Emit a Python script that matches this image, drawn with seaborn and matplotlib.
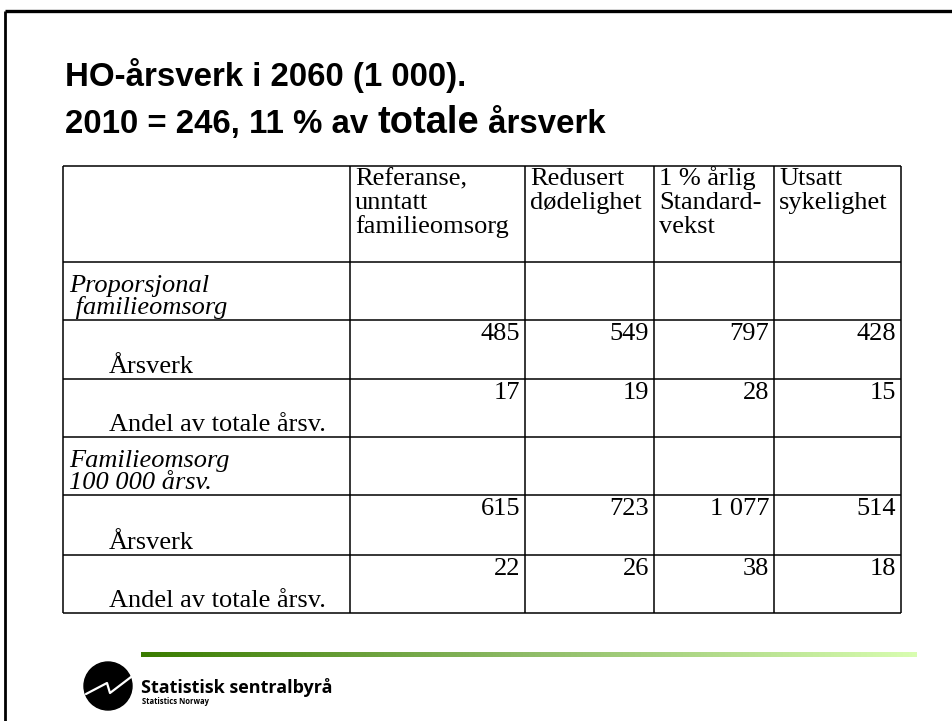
import matplotlib
matplotlib.use("Agg")
import matplotlib.pyplot as plt
import numpy as np
import seaborn as sns
from matplotlib.colors import ListedColormap
from matplotlib.patches import Circle

# table content
title_line1 = "HO-årsverk i 2060 (1 000)."
title_line2 = ["2010 = 246, 11 % av ", "totale", " årsverk"]
columns = ["Referanse,\nunntatt\nfamilieomsorg", "Redusert\ndødelighet",
           "1 % årlig\nStandard-\nvekst", "Utsatt\nsykelighet"]
groups = ["Proporsjonal\n familieomsorg", "Familieomsorg\n100 000 årsv."]
row_labels = ["Årsverk", "Andel av totale årsv."]
arsverk_prop = [485, 549, 797, 428]
andel_prop = [17, 19, 28, 15]
arsverk_fam = [615, 723, 1077, 514]
andel_fam = [22, 26, 38, 18]

# layout (pixels)
W, H = 952, 721
col_edges = [63, 350, 525, 654, 774, 901]
row_edges = [166, 262, 320, 379, 437, 495, 555, 613]
pt = 0.72  # px -> pt at dpi 100

sns.set_theme(style="white")
plt.rcParams['font.family'] = ['Liberation Serif', 'DejaVu Serif']
plt.rcParams['text.color'] = 'black'

fig = plt.figure(figsize=(W / 100, H / 100), dpi=100)
ax = fig.add_axes([0, 0, 1, 1])
ax.set_axis_off()

# slide frame
ax.plot([5, W], [11, 11], color='black', lw=2.4, solid_capstyle='butt')
ax.plot([5, 5], [11, H], color='black', lw=2.0, solid_capstyle='butt')

# title
sans = ['Liberation Sans', 'DejaVu Sans']
ax.text(65, 86, title_line1, family=sans, weight='bold', fontsize=33 * pt,
        va='baseline', ha='left')
renderer = fig.canvas.get_renderer()
x = 65
for part, size in zip(title_line2, [33, 38, 33]):
    t = ax.text(x, 133, part, family=sans, weight='bold', fontsize=size * pt,
                va='baseline', ha='left')
    bb = t.get_window_extent(renderer=renderer)
    x += bb.width

# table grid
ax.hlines(row_edges, col_edges[0], col_edges[-1], color='black', lw=1.1)
ax.vlines(col_edges, row_edges[0], row_edges[-1], color='black', lw=1.1)

fs = 19
# header
for j, name in enumerate(columns):
    for i, line in enumerate(name.split("\n")):
        ax.text(col_edges[j + 1] + 5, row_edges[0] + 19 + 24 * i, line,
                fontsize=fs, va='baseline', ha='left')

blocks = [(groups[0], [arsverk_prop, andel_prop]),
          (groups[1], [arsverk_fam, andel_fam])]
r = 1
for group, series in blocks:
    for i, line in enumerate(group.split("\n")):
        ax.text(col_edges[0] + 6, row_edges[r] + 30 + 22 * i, line,
                fontsize=fs, style='italic', va='baseline', ha='left')
    r += 1
    for label, vals in zip(row_labels, series):
        ax.text(col_edges[0] + 46, row_edges[r + 1] - 6, label,
                fontsize=fs, va='baseline', ha='left')
        for j, v in enumerate(vals):
            s = f"{v:,}".replace(",", " ")
            ax.text(col_edges[j + 2] - 5, row_edges[r] + 20, s,
                    fontsize=fs, va='baseline', ha='right')
        r += 1

# footer: green gradient bar and logo
cmap = ListedColormap(sns.blend_palette(["#3a7c00", "#8fbc68", "#d8fdb0"],
                                        n_colors=256))
ax.imshow(np.linspace(0, 1, 256)[None, :], extent=[141, 917, 657, 652],
          cmap=cmap, aspect='auto', interpolation='bilinear')
ax.add_patch(Circle((108, 686), 24, color='black'))
ax.plot([86, 107, 110, 131], [694, 683, 693, 677], color='white', lw=1.6)
ax.text(141, 693, "Statistisk sentralbyrå", family=['Open Sans', 'DejaVu Sans'],
        weight='bold', fontsize=13, va='baseline', ha='left')
ax.text(142, 704, "Statistics Norway", family=['Open Sans', 'DejaVu Sans'],
        weight='bold', fontsize=5.5, va='baseline', ha='left')

ax.set_xlim(0, W)
ax.set_ylim(H, 0)
fig.savefig('out.png', dpi=100)
